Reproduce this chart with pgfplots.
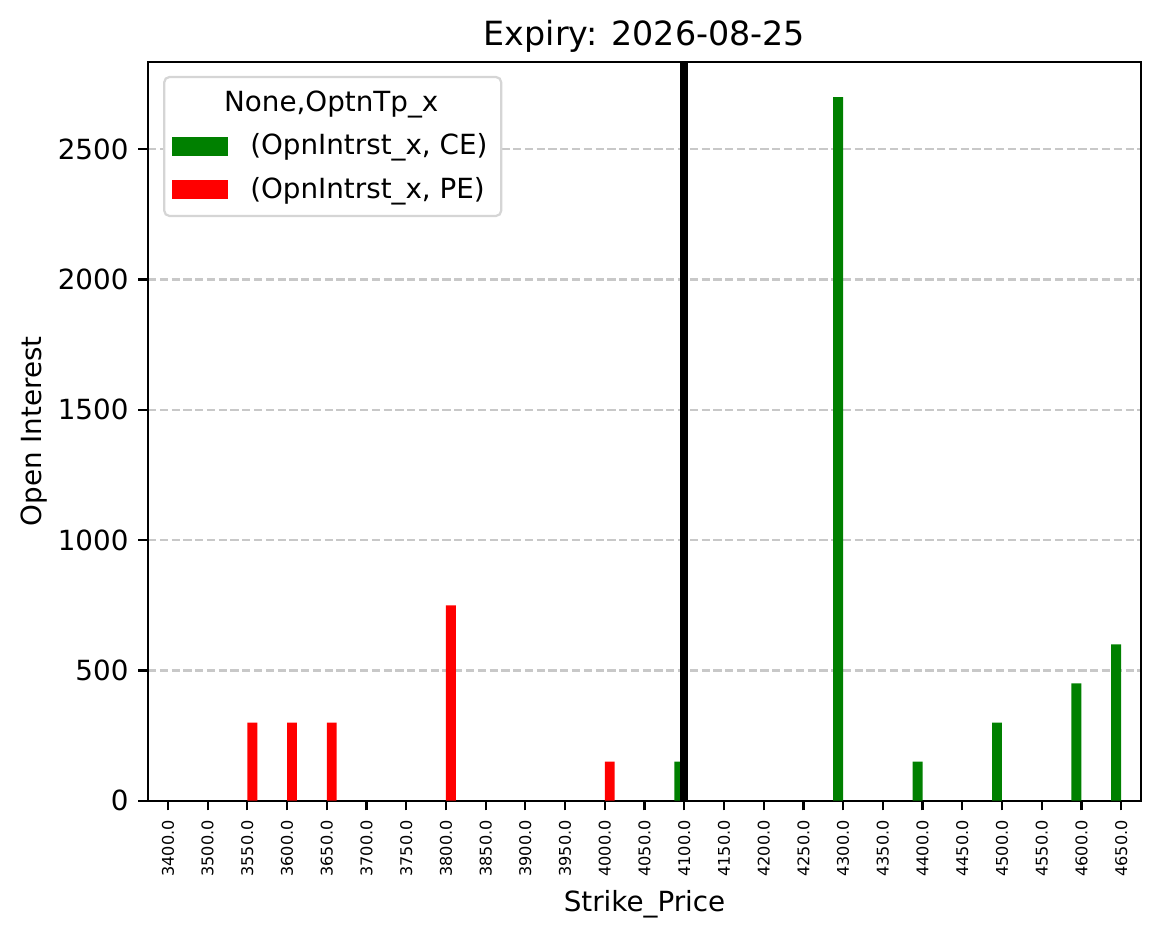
\documentclass[border=0pt]{standalone}
\usepackage{fontspec}
\setmainfont{DejaVu Sans}
\usepackage{pgfplots}
\pgfplotsset{compat=1.18}
\definecolor{cegreen}{HTML}{008000}
\definecolor{pered}{HTML}{FF0000}
\definecolor{gridgray}{HTML}{C8C8C8}
\definecolor{legframe}{HTML}{D5D5D5}
\begin{document}
\begin{tikzpicture}
\begin{axis}[
  scale only axis, width=357.5pt, height=266pt,
  xmin=-0.5, xmax=24.5, ymin=0, ymax=2835,
  xtick={0,...,24},
  xticklabels={3400.0,3500.0,3550.0,3600.0,3650.0,3700.0,3750.0,3800.0,3850.0,3900.0,3950.0,4000.0,4050.0,4100.0,4150.0,4200.0,4250.0,4300.0,4350.0,4400.0,4450.0,4500.0,4550.0,4600.0,4650.0},
  x tick label style={rotate=90, anchor=east, font=\fontsize{5.8}{7}\selectfont},
  ytick={0,500,1000,1500,2000,2500},
  y tick label style={font=\fontsize{10}{12}\selectfont},
  /pgf/number format/assume math mode=true,
  /pgf/number format/1000 sep={},
  scaled y ticks=false,
  tick align=outside, major tick length=3.5pt,
  tick style={black, line width=0.8pt},
  tick pos=left,
  axis line style={line width=0.8pt},
  ymajorgrids, grid style={gridgray, line width=0.8pt, dash pattern=on 2.96pt off 1.28pt},
  xlabel={Strike\_Price}, ylabel={Open Interest},
  label style={font=\fontsize{10}{12}\selectfont, inner sep=0pt},
  xlabel style={at={([yshift=-39.9pt]axis description cs:0.5,0)}, anchor=base},
  ylabel style={at={([xshift=-38.5pt]axis description cs:0,0.5)}, anchor=base},
  title={Expiry: 2026-08-25},
  every axis title shift=0pt,
  title style={font=\fontsize{12}{14}\selectfont, inner sep=0pt, anchor=base, at={(axis description cs:0.5,1)}, yshift=5.8pt},
  legend style={at={(0,1)}, anchor=north west, xshift=5.4pt, yshift=-5pt,
    draw=legframe, line width=0.8pt, rounded corners=2pt, fill=white,
    font=\fontsize{10}{12}\selectfont, cells={anchor=west},
    inner xsep=3pt, inner ysep=3pt, row sep=2.5pt},
]
\addlegendimage{empty legend}
\addlegendentry{\hspace{-9.4pt}None,OptnTp\_x}
\addplot[ybar, bar width=0.25, bar shift=-0.125, fill=cegreen, draw=none,
  legend image code/.code={\fill[cegreen, sharp corners] (0pt,-3.5pt) rectangle (20pt,3.5pt); \path (26pt,0pt);}]
  coordinates {(13,150) (17,2700) (19,150) (21,300) (23,450) (24,600)};
\addlegendentry{(OpnIntrst\_x, CE)}
\addplot[ybar, bar width=0.25, bar shift=0.125, fill=pered, draw=none,
  legend image code/.code={\fill[pered, sharp corners] (0pt,-3.5pt) rectangle (20pt,3.5pt); \path (26pt,0pt);}]
  coordinates {(2,300) (3,300) (4,300) (7,750) (11,150)};
\addlegendentry{(OpnIntrst\_x, PE)}
\addplot[black, line width=2.8pt, forget plot] coordinates {(13,0) (13,2835)};
\coordinate (O) at (rel axis cs:0,0);
\coordinate (T) at (rel axis cs:1,1);
\end{axis}
\path ([shift={(-53.3pt,-49.7pt)}]O) rectangle ([shift={(7.2pt,22.3pt)}]T);
\end{tikzpicture}
\end{document}
